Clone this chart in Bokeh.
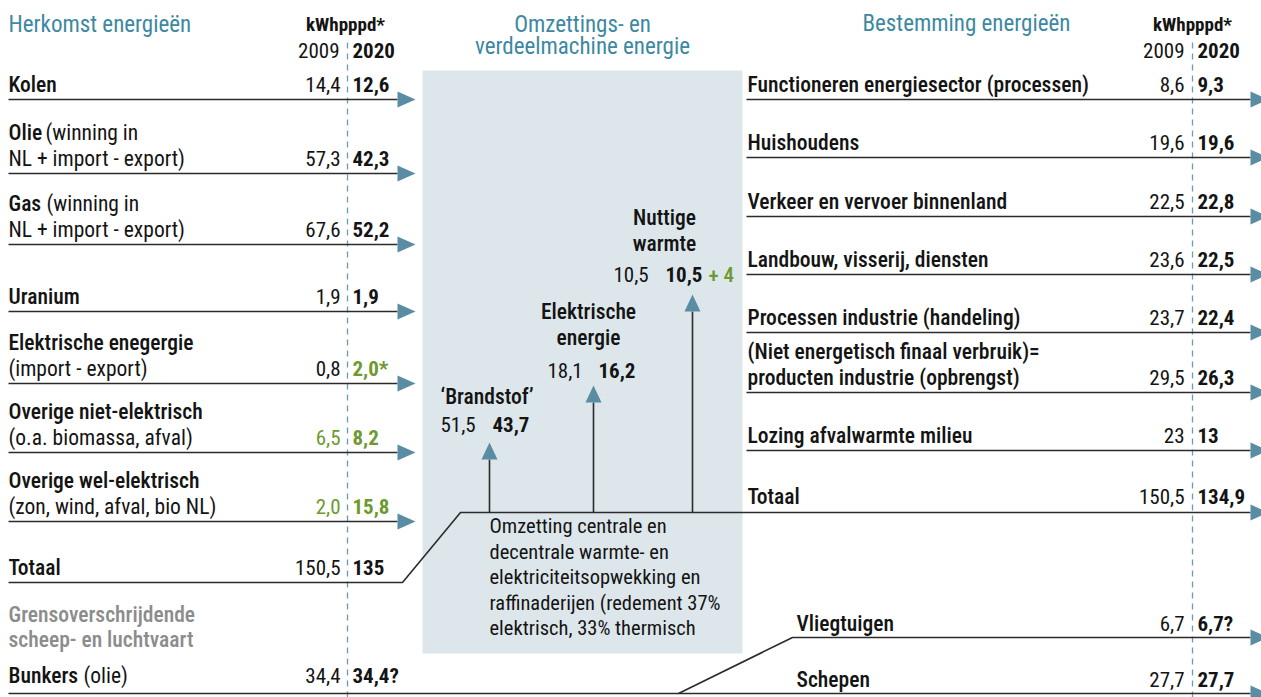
from bokeh.plotting import figure
from bokeh.models import Range1d, ColumnDataSource
from bokeh.core.properties import value
from bokeh.embed import file_html
from bokeh.resources import INLINE

# ---------------- data ----------------
herkomst_labels = [
    ["Kolen"],
    ["Olie (winning in", "NL + import - export)"],
    ["Gas (winning in", "NL + import - export)"],
    ["Uranium"],
    ["Elektrische enegergie", "(import - export)"],
    ["Overige niet-elektrisch", "(o.a. biomassa, afval)"],
    ["Overige wel-elektrisch", "(zon, wind, afval, bio NL)"],
    ["Totaal"],
]
herkomst_2009 = [14.4, 57.3, 67.6, 1.9, 0.8, 6.5, 2.0, 150.5]
herkomst_2020 = [12.6, 42.3, 52.2, 1.9, 2.0, 8.2, 15.8, 135]
herkomst_2020_note = ["", "", "", "", "*", "", "", ""]

bunker_heading = ["Grensoverschrijdende", "scheep- en luchtvaart"]
bunker_label = "Bunkers (olie)"
bunker_2009 = 34.4
bunker_2020 = 34.4
bunker_2020_note = "?"

omzetting_labels = [["\u2018Brandstof\u2019"], ["Elektrische", "energie"], ["Nuttige", "warmte"]]
omzetting_2009 = [51.5, 18.1, 10.5]
omzetting_2020 = [43.7, 16.2, 10.5]
omzetting_extra = ["", "", "+ 4"]
omzetting_text = [
    "Omzetting centrale en",
    "decentrale warmte- en",
    "elektriciteitsopwekking en",
    "raffinaderijen (redement 37%",
    "elektrisch, 33% thermisch",
]

bestemming_labels = [
    ["Functioneren energiesector (processen)"],
    ["Huishoudens"],
    ["Verkeer en vervoer binnenland"],
    ["Landbouw, visserij, diensten"],
    ["Processen industrie (handeling)"],
    ["(Niet energetisch finaal verbruik)=", "producten industrie (opbrengst)"],
    ["Lozing afvalwarmte milieu"],
    ["Totaal"],
]
bestemming_2009 = [8.6, 19.6, 22.5, 23.6, 23.7, 29.5, 23, 150.5]
bestemming_2020 = [9.3, 19.6, 22.8, 22.5, 22.4, 26.3, 13, 134.9]

vaart_labels = ["Vliegtuigen", "Schepen"]
vaart_2009 = [6.7, 27.7]
vaart_2020 = [6.7, 27.7]
vaart_2020_note = ["?", ""]

titles = ["Herkomst energie\u00ebn", "Omzettings- en", "verdeelmachine energie", "Bestemming energie\u00ebn"]
unit_label = "kWhpppd*"
years = ["2009", "2020"]

# ---------------- style / layout ----------------
FONT = "Roboto Condensed, DejaVu Sans Condensed, Liberation Sans Narrow, Arial Narrow, Roboto, sans-serif"
FONT_MED = "Roboto Condensed Medium, " + FONT
INK = "#141414"
TEAL = "#3d88a2"
ARROW = "#5a8ca4"
DASH = "#6a9db3"
GREEN = "#6c9a2e"
GREY = "#8c8c8c"
BOX = "#dde7eb"
LINE = "#2b2b2b"
FS = 21.5
FS_NUM = 21


def fmt(v):
    if isinstance(v, int):
        return str(v)
    return f"{v:.1f}".replace(".", ",")


p = figure(width=1261, height=697, output_backend="svg", toolbar_location=None,
           x_range=Range1d(0, 1261), y_range=Range1d(697, 0), min_border=0)
p.axis.visible = False
p.grid.visible = False
p.outline_line_color = None
p.background_fill_color = "white"


def put(xs, ys, texts, size=FS, color=INK, bold=False, align="left", medium=False):
    dy = 0.38 * size  # renderer places the alphabetic baseline this much too low
    src = ColumnDataSource(dict(x=list(xs), y=[y - dy for y in ys], text=list(texts)))
    p.text(x="x", y="y", text="text", source=src,
           text_font=value(FONT_MED if medium else FONT),
           text_font_size=value(f"{size}px"), text_color=color,
           text_font_style="bold" if bold else "normal",
           text_align=align, text_baseline="alphabetic")


# where a regular-weight tail follows a medium-weight head on one line
SPLIT_X = {"Olie": 45, "Gas": 46, "Bunkers": 83}


def put_label(x, y, line, first, size=FS, color=INK):
    if first and " (" in line and line.split(" (")[0] in SPLIT_X:
        head, tail = line.split(" (", 1)
        put([x], [y], [head], size=size, color=color, medium=True)
        put([SPLIT_X[head]], [y], ["(" + tail], size=size, color=color)
    else:
        put([x], [y], [line], size=size, color=color, medium=first)


arrow_xs, arrow_ys = [], []


def arrow_right(x, y, length=18, half=8):
    arrow_xs.append([x, x, x + length])
    arrow_ys.append([y - half, y + half, y])


def arrow_up(x, y_tip, length=17, half=8):
    arrow_xs.append([x - half, x + half, x])
    arrow_ys.append([y_tip + length, y_tip + length, y_tip])


line_xs, line_ys = [], []

# centre box
p.quad(left=422, right=742, top=70, bottom=653, fill_color=BOX, line_color=None)

# dashed year dividers
LX_DIV, RX_DIV = 347, 1192
p.segment(x0=[LX_DIV, RX_DIV], y0=[42, 42], x1=[LX_DIV, RX_DIV], y1=[697, 697],
          line_color=DASH, line_width=1.3, line_dash="6 5")

# titles
put([8], [33], [titles[0]], size=23, color=TEAL)
put([582, 582], [33, 55], titles[1:3], size=23, color=TEAL, align="center")
put([862], [32], [titles[3]], size=23, color=TEAL)
put([345, 1192], [31, 31], [unit_label] * 2, size=19, bold=True, align="center")
put([339, 1184], [58, 58], [years[0]] * 2, size=FS_NUM, align="right")
put([352, 1197], [58, 58], [years[1]] * 2, size=FS_NUM, bold=True)

GAP = 26
OFF = 7

# ---------------- left: herkomst ----------------
L_LINE = [99, 173, 244, 311, 383, 452, 521, 582]
L_V09_X, L_V20_X = 340, 352
green09 = {5, 6}
green20 = {4, 5, 6}
for i, lines in enumerate(herkomst_labels):
    n = len(lines)
    base = L_LINE[i] - OFF
    for k, t in enumerate(lines):
        put_label(8, base - GAP * (n - 1 - k), t, first=(k == 0))
    put([L_V09_X], [base], [fmt(herkomst_2009[i])], size=FS_NUM,
        color=GREEN if i in green09 else INK, align="right")
    put([L_V20_X], [base], [fmt(herkomst_2020[i]) + herkomst_2020_note[i]], size=FS_NUM,
        color=GREEN if i in green20 else INK, bold=True)
    if i < len(herkomst_labels) - 1:
        line_xs.append([8, 397])
        line_ys.append([L_LINE[i], L_LINE[i]])
        arrow_right(397, L_LINE[i])

# totaal connector to the right side
R_LINE = [99, 157, 216, 274, 332, 392, 450, 512]
TOT_L = L_LINE[-1]
TOT_R = R_LINE[-1]
line_xs.append([8, 402, 460, 1250])
line_ys.append([TOT_L, TOT_L, TOT_R, TOT_R])

# bunkers
put([8, 8], [622, 647], bunker_heading, color=GREY, medium=True)
BUNK_Y = 693
put_label(8, 683, bunker_label, first=True)
put([L_V09_X], [683], [fmt(bunker_2009)], size=FS_NUM, align="right")
put([L_V20_X], [683], [fmt(bunker_2020) + bunker_2020_note], size=FS_NUM, bold=True)

# ---------------- right: bestemming ----------------
R_TXT_X = 747
R_V09_X, R_V20_X = 1184, 1197
for i, lines in enumerate(bestemming_labels):
    n = len(lines)
    base = R_LINE[i] - OFF - (1 if i == len(bestemming_labels) - 1 else 0)
    put([R_TXT_X] * n, [base - GAP * (n - 1 - k) for k in range(n)], lines, medium=True)
    put([R_V09_X], [base], [fmt(bestemming_2009[i])], size=FS_NUM, align="right")
    put([R_V20_X], [base], [fmt(bestemming_2020[i])], size=FS_NUM, bold=True)
    if i < len(bestemming_labels) - 1:
        line_xs.append([746, 1250])
        line_ys.append([R_LINE[i], R_LINE[i]])
    arrow_right(1250, R_LINE[i])

# vliegtuigen / schepen
V_LINE = [637, BUNK_Y]
V_BASE = [631, 687]
for i, lab in enumerate(vaart_labels):
    put([796], [V_BASE[i]], [lab], medium=True)
    put([R_V09_X], [V_BASE[i]], [fmt(vaart_2009[i])], size=FS_NUM, align="right")
    put([R_V20_X], [V_BASE[i]], [fmt(vaart_2020[i]) + vaart_2020_note[i]], size=FS_NUM, bold=True)
    arrow_right(1250, V_LINE[i])
line_xs.append([8, 1250])
line_ys.append([BUNK_Y, BUNK_Y])
line_xs.append([678, 792, 1250])
line_ys.append([BUNK_Y, V_LINE[0], V_LINE[0]])

# ---------------- centre: omzetting ----------------
C_ARROW_X = [489, 593, 692]
C_ARROW_TIP = [442, 385, 294]
C_LAB_X = [440, 588, 664]
C_LAB_ALIGN = ["left", "center", "center"]
C_LAB_BASE = [404, 345, 251]
C_VAL_BASE = [432, 378, 282]
C_V09_X = [440, 547, 613]
C_V20_X = [492, 598, 665]
for i, lines in enumerate(omzetting_labels):
    n = len(lines)
    put([C_LAB_X[i]] * n, [C_LAB_BASE[i] - GAP * (n - 1 - k) for k in range(n)], lines,
        align=C_LAB_ALIGN[i], medium=True)
    put([C_V09_X[i]], [C_VAL_BASE[i]], [fmt(omzetting_2009[i])], size=FS_NUM)
    put([C_V20_X[i]], [C_VAL_BASE[i]], [fmt(omzetting_2020[i])], size=FS_NUM, bold=True)
    if omzetting_extra[i]:
        put([708], [C_VAL_BASE[i]], [omzetting_extra[i]], size=FS_NUM, color=GREEN, medium=True)
    arrow_up(C_ARROW_X[i], C_ARROW_TIP[i])
    line_xs.append([C_ARROW_X[i], C_ARROW_X[i]])
    line_ys.append([C_ARROW_TIP[i] + 17, TOT_R])

put([489] * len(omzetting_text), [533, 559, 584, 610, 635], omzetting_text, size=20.5)

p.multi_line(xs=line_xs, ys=line_ys, line_color=LINE, line_width=1.6)
p.patches(xs=arrow_xs, ys=arrow_ys, fill_color=ARROW, line_color=None)

open("out.html", "w").write(file_html(p, INLINE))
